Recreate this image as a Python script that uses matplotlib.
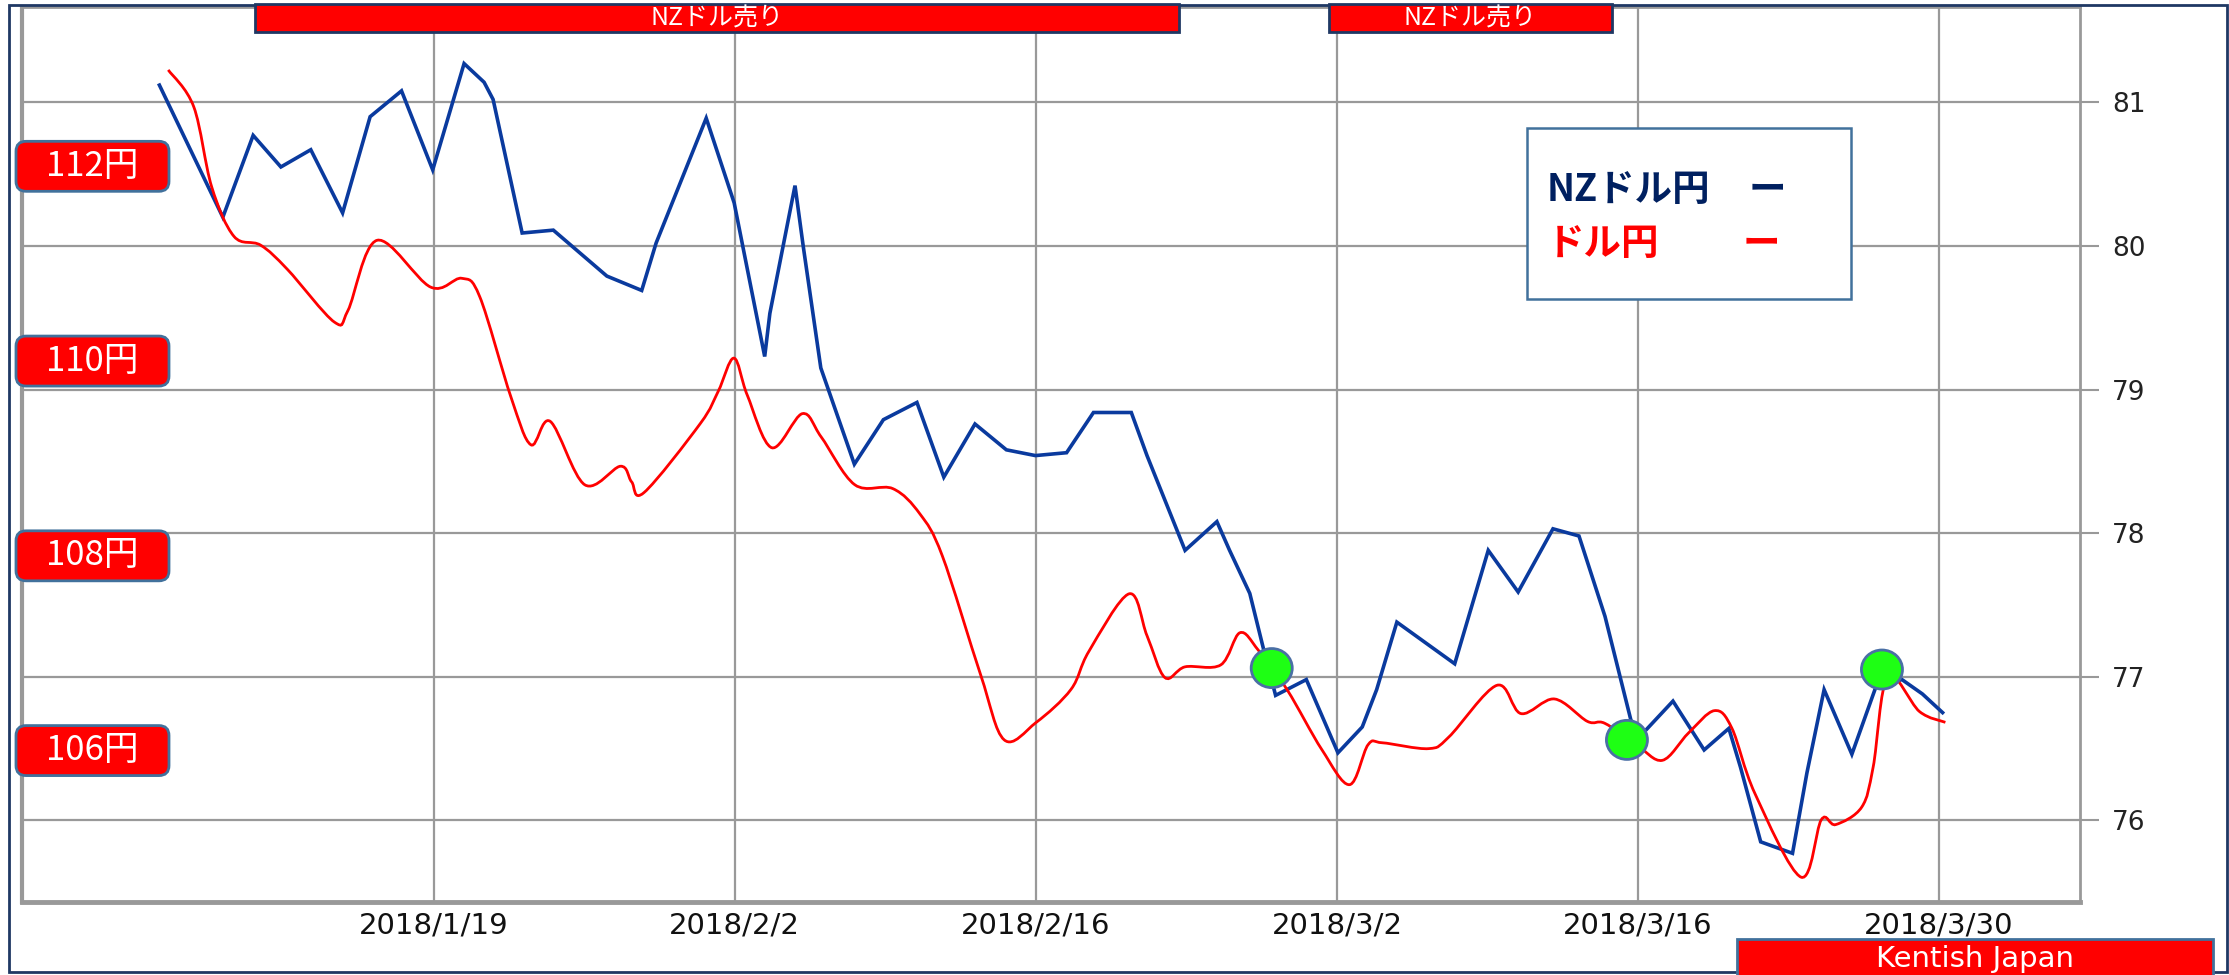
import matplotlib
matplotlib.use('Agg')
import matplotlib.pyplot as plt
from matplotlib.patches import Rectangle, Ellipse, FancyBboxPatch, PathPatch
from matplotlib.path import Path
from matplotlib.transforms import blended_transform_factory, IdentityTransform

plt.rcParams['font.family'] = ['Noto Sans CJK JP', 'DejaVu Sans']

# x: 2018-01-01 からの日数
nzd_days = [5.24, 8.19, 9.60, 10.89, 12.28, 13.76, 15.04, 16.50, 17.95, 19.41, 20.34, 20.76,
            22.11, 23.56, 26.05, 27.67, 28.34, 30.67, 31.97, 33.39, 33.63, 34.80, 35.18, 36.00,
            37.56, 38.91, 40.47, 41.72, 43.17, 44.63, 45.98, 47.43, 48.68, 50.44, 51.17, 52.94,
            54.42, 55.01, 55.95, 56.56, 57.15, 58.58, 60.05, 61.18, 61.85, 62.79, 65.48, 67.04,
            68.43, 70.05, 71.26, 72.47, 73.67, 74.07, 75.63, 77.08, 78.23, 78.77, 79.71, 81.19,
            81.86, 82.66, 83.95, 85.07, 86.28, 87.23, 88.17]
nzd_vals = [81.12, 80.20, 80.77, 80.55, 80.67, 80.23, 80.90, 81.08, 80.53, 81.27, 81.14, 81.02,
            80.09, 80.11, 79.79, 79.69, 80.02, 80.89, 80.30, 79.23, 79.53, 80.42, 80.00, 79.15,
            78.48, 78.79, 78.91, 78.39, 78.76, 78.58, 78.54, 78.56, 78.84, 78.84, 78.54, 77.88,
            78.08, 77.88, 77.58, 77.21, 76.87, 76.98, 76.47, 76.65, 76.91, 77.38, 77.09, 77.88,
            77.59, 78.03, 77.98, 77.42, 76.70, 76.58, 76.83, 76.49, 76.64, 76.37, 75.85, 75.77,
            76.33, 76.91, 76.46, 76.93, 76.98, 76.88, 76.75]

usd_days = [5.65, 6.84, 7.67, 8.71, 9.95, 11.20, 13.38, 14.01, 15.36, 17.85, 19.30, 20.14,
            21.59, 22.52, 23.42, 25.02, 26.68, 27.20, 27.78, 30.40, 31.23, 31.96, 32.58, 33.72,
            35.14, 36.02, 37.58, 39.35, 40.61, 41.65, 43.43, 44.53, 46.02, 47.64, 48.47, 50.34,
            51.17, 52.00, 52.94, 54.60, 55.49, 56.35, 57.70, 59.30, 60.59, 61.45, 62.12, 64.27,
            65.21, 67.44, 68.56, 70.12, 71.65, 72.46, 73.94, 75.14, 76.35, 77.56, 78.37, 79.44,
            81.59, 82.53, 83.20, 84.41, 84.94, 85.62, 87.10, 88.30]
usd_vals = [112.99, 112.61, 111.79, 111.28, 111.19, 110.94, 110.40, 110.52, 111.24, 110.76,
            110.85, 110.66, 109.63, 109.14, 109.38, 108.73, 108.92, 108.76, 108.65, 109.36,
            109.69, 110.03, 109.65, 109.11, 109.46, 109.22, 108.73, 108.69, 108.43, 108.00,
            106.78, 106.11, 106.29, 106.63, 107.02, 107.61, 107.18, 106.75, 106.86, 106.88,
            107.21, 107.03, 106.62, 106.01, 105.65, 106.06, 106.08, 106.02, 106.14, 106.67,
            106.38, 106.53, 106.30, 106.28, 106.06, 105.90, 106.18, 106.41, 106.23, 105.56,
            104.70, 105.29, 105.24, 105.42, 105.83, 106.76, 106.40, 106.29]

tick_days = [18, 32, 46, 60, 74, 88]
tick_labels = ['2018/1/19', '2018/2/2', '2018/2/16', '2018/3/2', '2018/3/16', '2018/3/30']
nzd_ticks = [76, 77, 78, 79, 80, 81]
yen_marks = [112, 110, 108, 106]
sell_spans = [(9.69, 52.64), (59.62, 72.79)]
sell_text = 'NZドル売り'
cross_days = [56.97, 73.49, 85.35]
cross_vals = [77.06, 76.56, 77.05]

GRID = '#999999'
NAVY = '#1f3864'
EDGE = '#41719c'


def smooth_path(xs, ys):
    # Excel の「スムージング線」風：各点を通るベジェ曲線
    pts = list(zip(xs, ys))
    verts = [pts[0]]
    codes = [Path.MOVETO]
    n = len(pts)
    for i in range(n - 1):
        p0 = pts[max(i - 1, 0)]
        p1 = pts[i]
        p2 = pts[i + 1]
        p3 = pts[min(i + 2, n - 1)]
        c1 = (p1[0] + (p2[0] - p0[0]) / 6, p1[1] + (p2[1] - p0[1]) / 6)
        c2 = (p2[0] - (p3[0] - p1[0]) / 6, p2[1] - (p3[1] - p1[1]) / 6)
        verts += [c1, c2, p2]
        codes += [Path.CURVE4] * 3
    return Path(verts, codes)


fig = plt.figure(figsize=(22.29, 9.75), dpi=100)
ax = fig.add_axes([22 / 2229, 0.07487, 2058 / 2229, 0.91795])
ax2 = ax.twinx()  # ドル円は別スケール（目盛りは出さない）

ax.set_xlim(-1.15, 94.56)
ax.set_ylim(75.431, 81.664)
ax.plot(nzd_days, nzd_vals, color='#0a3a9e', lw=2.6, solid_joinstyle='miter')

ax.yaxis.tick_right()
ax.set_xticks(tick_days)
ax.set_xticklabels(tick_labels, fontsize=21, family='DejaVu Sans', color='#111111')
ax.set_yticks(nzd_ticks)
ax.set_yticklabels([str(t) for t in nzd_ticks], fontsize=19, family='DejaVu Sans', color='#222222')
ax.tick_params(axis='x', length=0, pad=7)
ax.tick_params(axis='y', which='both', left=False, labelleft=False, right=True, labelright=True,
               length=14, width=1.5, color=GRID, pad=9)
ax.grid(True, color=GRID, lw=1.6)
ax.set_axisbelow(True)
for side, w in [('left', 3.0), ('bottom', 3.5), ('top', 2.0), ('right', 2.0)]:
    ax.spines[side].set_color(GRID)
    ax.spines[side].set_linewidth(w)

ax2.set_ylim(104.445, 113.636)
ax2.add_patch(PathPatch(smooth_path(usd_days, usd_vals), fill=False,
                        edgecolor='#ff0000', lw=2.0))
ax2.set_yticks([])
ax2.tick_params(axis='y', right=False, labelright=False)
for s in ax2.spines.values():
    s.set_visible(False)

for d, v in zip(cross_days, cross_vals):
    ax2.add_patch(Ellipse((d, v), width=1.91, height=0.272, transform=ax.transData,
                          facecolor='#1eff14', edgecolor='#4a6fa5', lw=2, zorder=5))

# 外枠
fig.add_artist(Rectangle((9, 3), 2218, 967, transform=IdentityTransform(),
                         fill=False, edgecolor=NAVY, lw=2, zorder=1))

# 売りシグナルのバー
bt = blended_transform_factory(ax.transData, fig.transFigure)
for x0, x1 in sell_spans:
    fig.add_artist(Rectangle((x0, 0.9672), x1 - x0, 0.0287, transform=bt,
                             facecolor='#ff0000', edgecolor=NAVY, lw=2, zorder=3))
    fig.text((x0 + x1) / 2, 0.9815, sell_text, transform=bt, ha='center', va='center',
             color='white', fontsize=18, zorder=4)

# 左側のドル円ラベル
fig.canvas.draw()
for v in yen_marks:
    yc = ax2.transData.transform((0, v))[1]
    fig.add_artist(FancyBboxPatch((16, yc - 25), 153, 50, transform=IdentityTransform(),
                                  boxstyle='round,pad=0,rounding_size=10',
                                  facecolor='#ff0000', edgecolor=EDGE, lw=2, zorder=3))
    fig.text(92 / 2229, yc / 975, f'{v}円', ha='center', va='center', color='white',
             fontsize=25, zorder=4)

# 凡例
fig.add_artist(Rectangle((1527, 975 - 299), 324, 171, transform=IdentityTransform(),
                         facecolor='white', edgecolor=EDGE, lw=1.8, zorder=3))
fig.text(1547 / 2229, 1 - 190 / 975, 'NZドル円', ha='left', va='center', fontsize=27,
         weight='bold', color='#002060', zorder=4)
fig.text(1767 / 2229, 1 - 189 / 975, 'ー', ha='center', va='center', fontsize=27,
         weight='bold', color='#002060', zorder=4)
fig.text(1547 / 2229, 1 - 243 / 975, 'ドル円', ha='left', va='center', fontsize=27,
         weight='bold', color='#ff0000', zorder=4)
fig.text(1761 / 2229, 1 - 243 / 975, 'ー', ha='center', va='center', fontsize=27,
         weight='bold', color='#ff0000', zorder=4)

# 右下のクレジット
fig.add_artist(Rectangle((1737, -4), 476, 40, transform=IdentityTransform(),
                         facecolor='#ff0000', edgecolor=EDGE, lw=2, zorder=3))
fig.text(1975 / 2229, 16 / 975, 'Kentish Japan', ha='center', va='center', color='white',
         fontsize=21, family='DejaVu Sans', zorder=4)

plt.savefig('out.png', dpi=100)
